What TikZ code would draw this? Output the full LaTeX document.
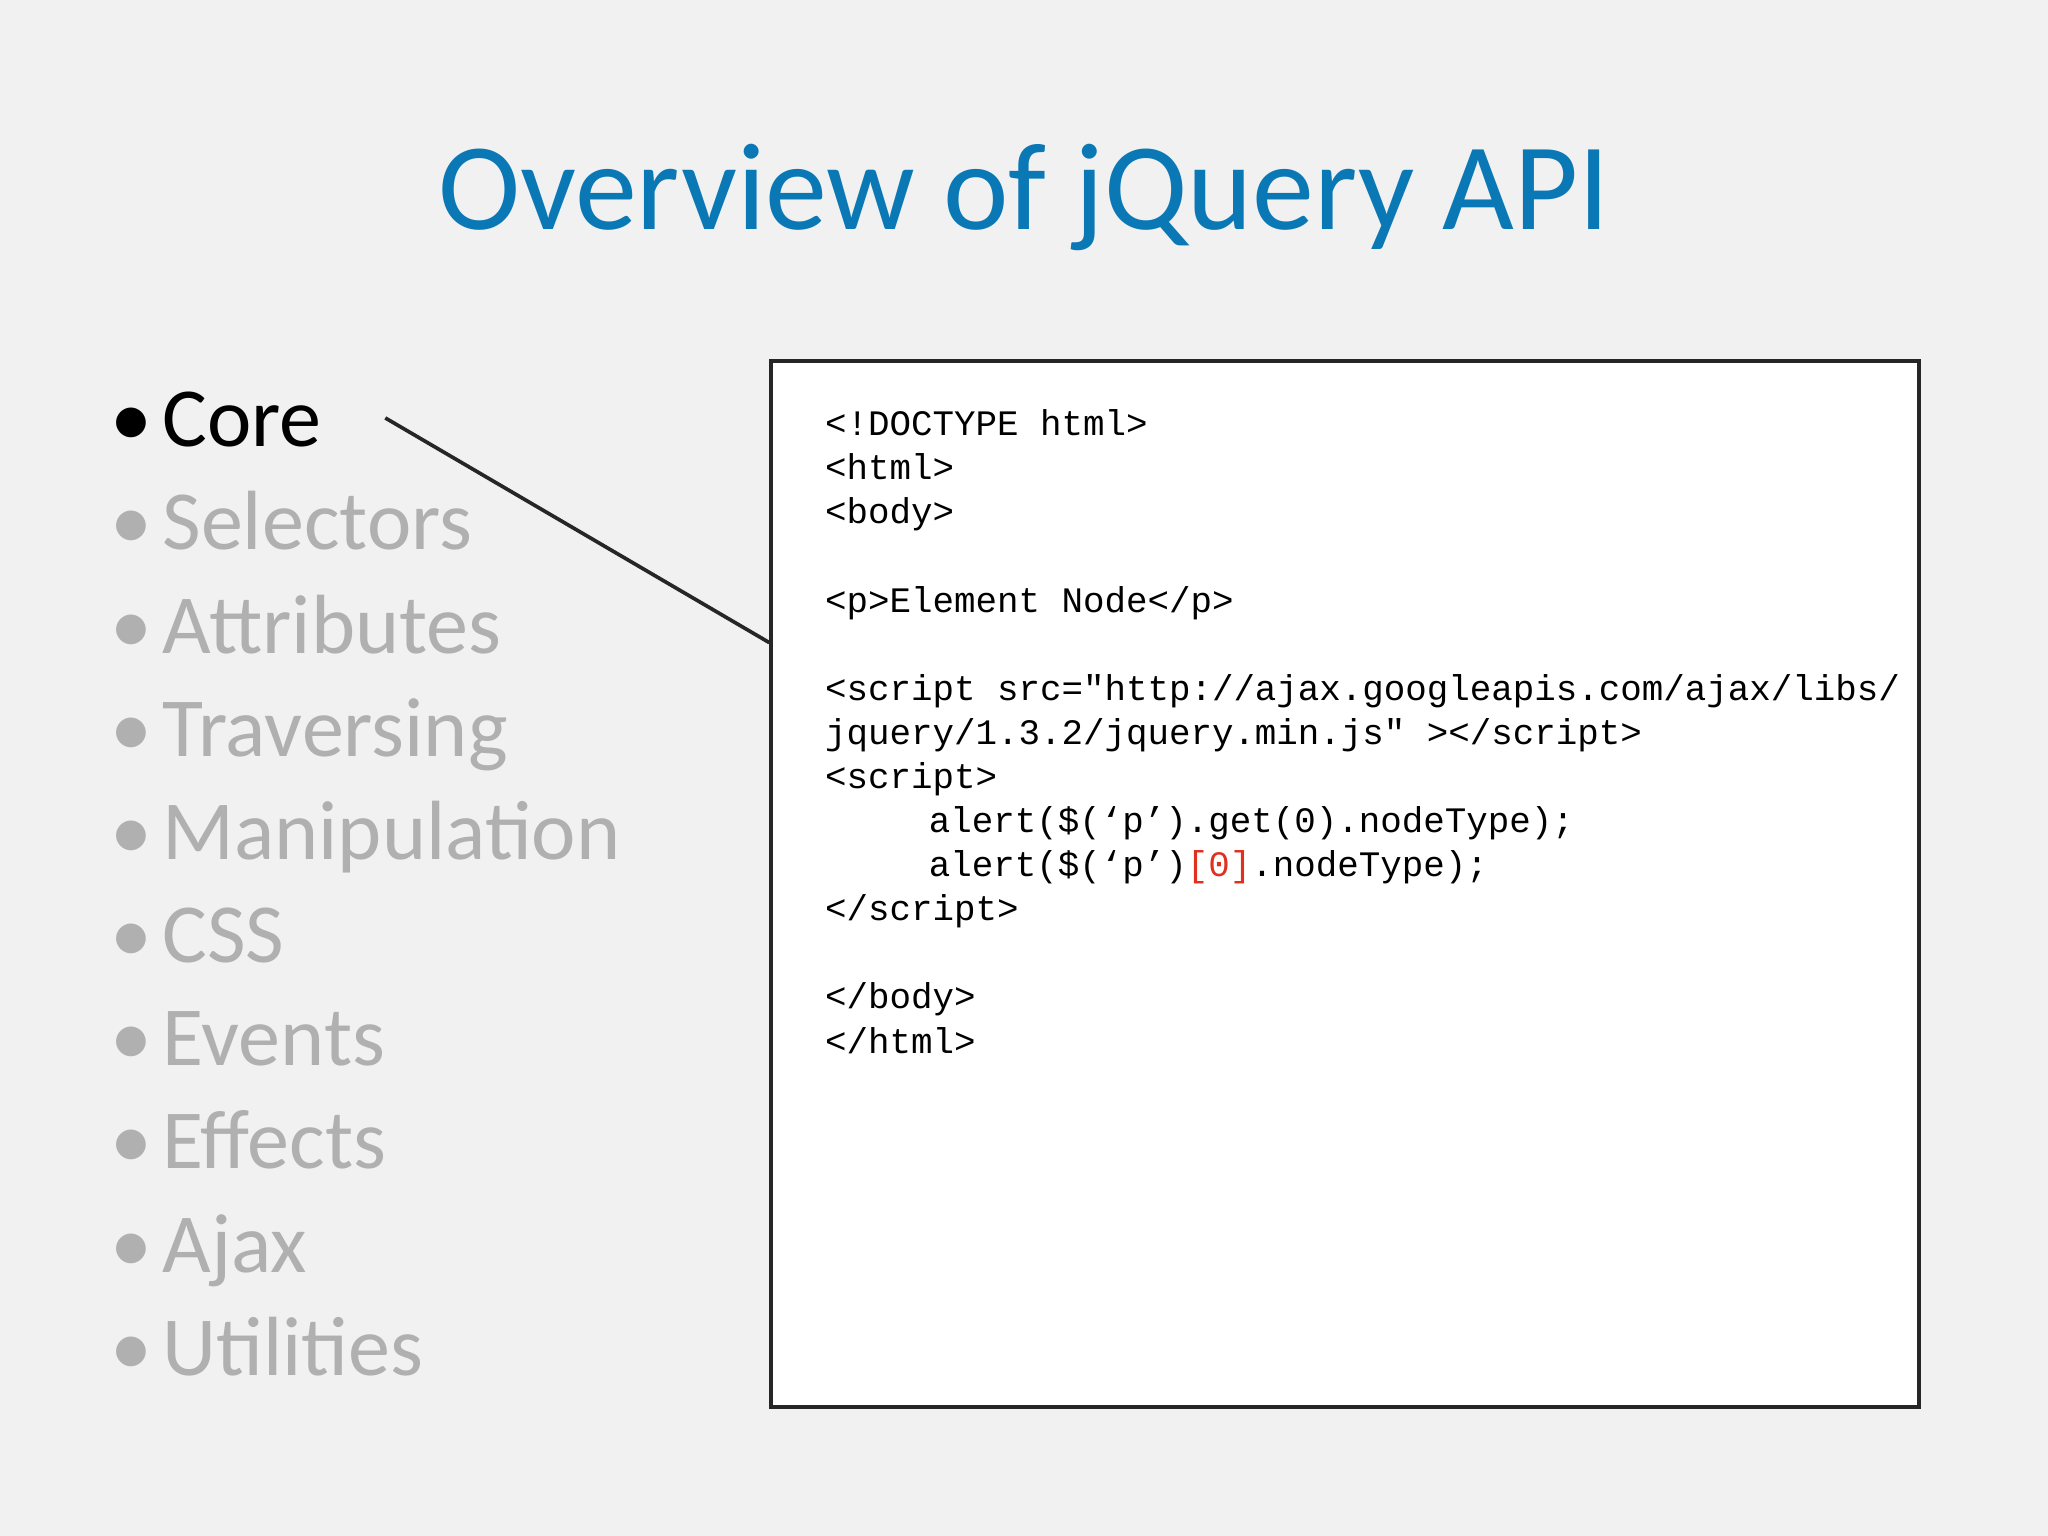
\documentclass[tikz,border=0pt]{standalone}
\usepackage{fontspec}
\setmainfont{Carlito}
\setmonofont{Liberation Mono}
\usetikzlibrary{positioning}
\definecolor{slidebg}{HTML}{F1F1F1}
\definecolor{titleblue}{HTML}{0B78B6}
\definecolor{dimgray}{HTML}{B0B0B0}
\definecolor{codered}{HTML}{E0301E}
\tikzset{bullet/.style={anchor=base west,inner sep=0pt,font=\fontsize{18.3}{22}\selectfont,text=dimgray}}
\begin{document}
\begin{tikzpicture}[x=0.01cm,y=-0.01cm]
\fill[slidebg] (0,0) rectangle (1568,1176);
\useasboundingbox (0,0) rectangle (1568,1176);
\node[anchor=base,inner sep=0pt,text=titleblue,font=\fontsize{27}{32}\selectfont] (title) at (784,176) {Overview of jQuery API};
% topic list
\node[bullet,text=black] (core) at (84,342) {•\hspace{0.12em}Core};
\foreach \t [count=\i] in {Selectors,Attributes,Traversing,Manipulation,CSS,Events,Effects,Ajax,Utilities}
  \node[bullet] (topic\i) at (84,342+79*\i) {•\hspace{0.12em}\t};
% code box
\node[draw=black!85,line width=0.9pt,fill=white,anchor=north west,minimum width=8.78cm,minimum height=8.0cm,inner sep=0pt] (codebox) at (589,275) {};
\node[anchor=north west,inner sep=0pt,align=left,font=\ttfamily\fontsize{7.8}{9.6}\selectfont] (code) at (631,313) {%
<!DOCTYPE html>\\
<html>\\
<body>\\
\mbox{}\\
<p>Element Node</p>\\
\mbox{}\\
<script src="http://ajax.googleapis.com/ajax/libs/\\
jquery/1.3.2/jquery.min.js" ></script>\\
<script>\\
\hspace*{2.9em}alert(\$(‘p’).get(0).nodeType);\\
\hspace*{2.9em}alert(\$(‘p’)\textcolor{codered}{[0]}.nodeType);\\
</script>\\
\mbox{}\\
</body>\\
</html>};
\coordinate (coreend) at (295,320);
\draw[black!85,line width=0.8pt] (coreend) -- (codebox.west |- 0,492);
\end{tikzpicture}
\end{document}
